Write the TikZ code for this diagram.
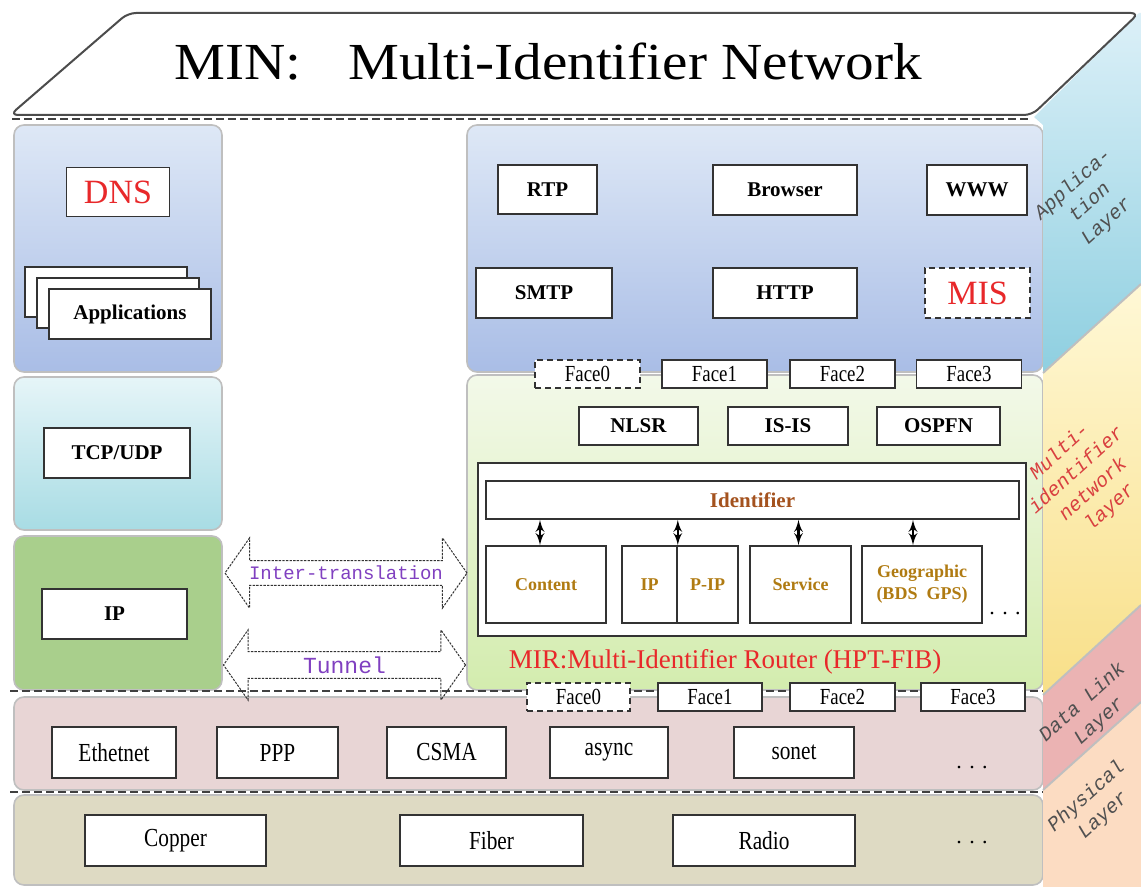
\documentclass[tikz,border=0pt]{standalone}
\usepackage{fontspec}
\setmainfont{Liberation Serif}
\newfontfamily\narrowfont[FakeStretch=0.82]{Liberation Serif}
\newfontfamily\titlefont[FakeStretch=1.1]{Liberation Serif}
\newfontfamily\arrowfont{Liberation Mono}
\newfontfamily\sidefont{Liberation Mono}
\usetikzlibrary{arrows,shapes.arrows}

\definecolor{appTop}{HTML}{DEE8F6}
\definecolor{appBot}{HTML}{A9BDE6}
\definecolor{tcpTop}{HTML}{E6F5F8}
\definecolor{tcpBot}{HTML}{A8DCE4}
\definecolor{ipGreen}{HTML}{A9CF8C}
\definecolor{mirTop}{HTML}{F3F9E9}
\definecolor{mirBot}{HTML}{D3ECAE}
\definecolor{linkPink}{HTML}{E8D5D5}
\definecolor{physTan}{HTML}{DEDAC3}
\definecolor{sideAppTop}{HTML}{DCF0F8}
\definecolor{sideAppBot}{HTML}{8ECFE0}
\definecolor{sideNetTop}{HTML}{FFF8D6}
\definecolor{sideNetBot}{HTML}{F8DF88}
\definecolor{sideLink}{HTML}{EBB3B3}
\definecolor{sidePhys}{HTML}{FCDCC2}
\definecolor{minRed}{HTML}{E8282A}
\definecolor{idBrown}{HTML}{A4521E}
\definecolor{idGold}{HTML}{B07B12}
\definecolor{xlatePurple}{HTML}{8040C0}
\definecolor{sideGray}{HTML}{505050}
\definecolor{sideRed}{HTML}{D94040}

\tikzset{
    sz/.style 2 args={minimum width=#1*0.5pt, minimum height=#2*0.5pt},
    box/.style={draw=black!80, fill=white, line width=0.8pt, inner sep=0pt,
        font=\bfseries\fontsize{10.5}{12}\selectfont},
    dashedbox/.style={dash pattern=on 3pt off 2pt},
    face/.style={box, sz={105}{28}, font=\narrowfont\fontsize{11.5}{13}\selectfont},
    linkbox/.style={box, sz={120}{51}, font=\narrowfont\fontsize{13}{15}\selectfont},
    idbox/.style={box, sz={120}{77}, text=idGold, align=center,
        font=\bfseries\fontsize{9}{11}\selectfont},
    layer/.style={draw=black!25, line width=0.8pt, rounded corners=5pt},
    sep/.style={draw=black!75, line width=1pt, dash pattern=on 4pt off 2pt},
    xlate/.style={double arrow, draw=black!80, line width=0.5pt,
        dash pattern=on 1.2pt off 0.6pt, double arrow head extend=8.75pt,
        double arrow tip angle=110, minimum height=121pt, minimum width=35pt,
        inner sep=1pt, text=xlatePurple},
    sidelabel/.style={rotate=42, align=center, text=sideGray,
        font=\sidefont\itshape\fontsize{10}{12.5}\selectfont},
    dots/.style={font=\fontsize{11}{12}\selectfont}
}

\begin{document}
\begin{tikzpicture}[x=0.5pt, y=-0.5pt, >=latex']
    \useasboundingbox (0,0) rectangle (1141,887);

    % Layer backgrounds
    \draw[layer, top color=appTop, bottom color=appBot] (14,125) rectangle (222,372);
    \draw[layer, top color=tcpTop, bottom color=tcpBot] (14,377) rectangle (222,530);
    \draw[layer, fill=ipGreen] (14,536) rectangle (222,690);
    \draw[layer, top color=appTop, bottom color=appBot] (467,125) rectangle (1043,372);
    \draw[layer, top color=mirTop, bottom color=mirBot] (467,375) rectangle (1043,690);
    \draw[layer, fill=linkPink] (14,697) rectangle (1043,790);
    \draw[layer, fill=physTan] (14,795) rectangle (1043,885);

    % Side face
    \shade[top color=sideAppTop, bottom color=sideAppBot] (1034,117) -- (1139,13) -- (1141,13) -- (1141,284) -- (1043,373) -- (1043,125) -- cycle;
    \shade[top color=sideNetTop, bottom color=sideNetBot] (1043,373) -- (1141,284) -- (1141,605) -- (1043,695) -- cycle;
    \fill[sideLink] (1043,695) -- (1141,605) -- (1141,702) -- (1043,790) -- cycle;
    \fill[sidePhys] (1043,790) -- (1141,702) -- (1141,887) -- (1043,887) -- cycle;
    \draw[black!25, line width=1pt] (1043,373) -- (1141,284);
    \draw[black!25, line width=1pt] (1043,695) -- (1141,605);
    \draw[black!25, line width=1pt] (1043,790) -- (1141,702);

    % Top slab
    \draw[fill=white, draw=black!70, line width=1pt, rounded corners=4pt]
        (10,115) -- (128,13) -- (1139,13) -- (1032,115) -- cycle;
    \node[font=\titlefont\fontsize{26}{30}\selectfont] (title) at (548,62)
        {MIN:\hspace{0.9em}Multi-Identifier Network};

    % Dashed separators
    \draw[sep] (12,119) -- (1030,119);
    \draw[sep] (10,691) -- (1043,691);
    \draw[sep] (10,792) -- (1043,792);

    % Side labels
    \node[sidelabel] (lblapp) at (1090,203) {Applica-\\tion\\Layer};
    \node[sidelabel, text=sideRed] (lblnet) at (1085,480) {Multi-\\identifier\\network\\layer};
    \node[sidelabel] (lbllink) at (1091,712) {Data Link\\Layer};
    \node[sidelabel] (lblphys) at (1095,806) {Physical\\Layer};

    % IP stack
    \node[box, sz={103}{49}, text=minRed, font=\fontsize{17}{19}\selectfont] (dns) at (118,192) {DNS};
    \node[box, sz={162}{50}] (apps3) at (106,292) {};
    \node[box, sz={162}{50}] (apps2) at (118,303) {};
    \node[box, sz={162}{50}] (apps)  at (130,314) {Applications};
    \node[box, sz={146}{50}] (tcp) at (117,453) {TCP/UDP};
    \node[box, sz={145}{50}] (ip)  at (114.5,614) {IP};

    % Inter-translation and tunnel
    \node[xlate, font=\arrowfont\fontsize{9.5}{11}\selectfont] (inter) at (346,573) {Inter-translation};
    \node[xlate, font=\arrowfont\fontsize{11.5}{13}\selectfont] (tunnel) at (344.5,665) {Tunnel};

    % MIN applications
    \node[box, sz={99}{49}]  (rtp)     at (547.5,189.5) {RTP};
    \node[box, sz={144}{50}] (browser) at (785,190) {Browser};
    \node[box, sz={100}{50}] (www)     at (977,190) {WWW};
    \node[box, sz={136}{50}] (smtp)    at (544,293) {SMTP};
    \node[box, sz={144}{50}] (http)    at (785,293) {HTTP};
    \node[box, dashedbox, sz={105}{50}, text=minRed, font=\fontsize{17}{19}\selectfont] (mis) at (977.5,293) {MIS};

    % Faces (upper)
    \node[face, dashedbox] (faceup0) at (587.5,374) {Face0};
    \node[face] (faceup1) at (714.5,374) {Face1};
    \node[face] (faceup2) at (842.5,374) {Face2};
    \node[face] (faceup3) at (969,374)   {Face3};

    % Routing
    \node[box, sz={119}{38}] (nlsr)  at (638.5,426) {NLSR};
    \node[box, sz={120}{38}] (isis)  at (788,426)   {IS-IS};
    \node[box, sz={123}{38}] (ospfn) at (938.5,426) {OSPFN};

    % MIR
    \node[box, sz={548}{173}] (mirframe) at (752,549.5) {};
    \node[box, sz={533}{38}, text=idBrown] (ident) at (752.5,500) {Identifier};
    \node[idbox] (content) at (546,584.5) {Content};
    \node[idbox, sz={55}{77}] (ipid) at (649.5,584.5) {IP};
    \node[idbox, sz={61}{77}] (pip)  at (707.5,584.5) {P-IP};
    \node[idbox, sz={101}{77}] (service) at (800.5,584.5) {Service};
    \node[idbox] (geo) at (922,584.5) {Geographic\\(BDS\enspace GPS)};
    \node[dots] (iddots) at (1005,614) {. . .};
    \draw[<->, line width=1.1pt] ([xshift=-3pt]content.north |- ident.south) -- ([xshift=-3pt]content.north);
    \draw[<->, line width=1.1pt] (ipid.north east |- ident.south) -- (ipid.north east);
    \draw[<->, line width=1.1pt] ([xshift=-1pt]service.north |- ident.south) -- ([xshift=-1pt]service.north);
    \draw[<->, line width=1.1pt] ([xshift=-4.5pt]geo.north |- ident.south) -- ([xshift=-4.5pt]geo.north);
    \node[text=minRed, font=\fontsize{13.5}{15}\selectfont] (mirlabel) at (725,662) {MIR:Multi-Identifier Router (HPT-FIB)};

    % Faces (lower)
    \node[face, dashedbox, sz={103}{28}] (facelo0) at (578.5,697) {Face0};
    \node[face, sz={104}{28}] (facelo1) at (710,697)   {Face1};
    \node[face] (facelo2) at (842.5,697) {Face2};
    \node[face, sz={104}{28}] (facelo3) at (973,697)   {Face3};

    % Data link
    \node[linkbox, sz={124}{51}] (eth)   at (114,752.5)   {Ethetnet};
    \node[linkbox, sz={121}{51}] (ppp)   at (277.5,752.5) {PPP};
    \node[linkbox, sz={119}{51}] (csma)  at (446.5,752.5) {CSMA};
    \node[linkbox, sz={118}{51}] (async) at (609,752.5)   {async};
    \node[linkbox] (sonet) at (794,752.5) {sonet};
    \node[dots] (linkdots) at (972,768) {. . .};

    % Physical
    \node[linkbox, sz={181}{51}] (copper) at (175.5,840.5) {Copper};
    \node[linkbox, sz={183}{51}] (fiber)  at (491.5,840.5) {Fiber};
    \node[linkbox, sz={182}{51}] (radio)  at (764,840.5)   {Radio};
    \node[dots] (physdots) at (972,843) {. . .};
\end{tikzpicture}
\end{document}
